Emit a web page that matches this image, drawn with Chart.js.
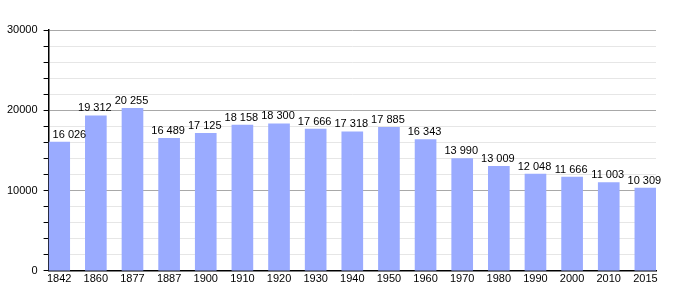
<!DOCTYPE html>
<html>
<head>
<meta charset="utf-8">
<script src="https://cdn.jsdelivr.net/npm/chart.js@4"></script>
<style>
  html, body { margin: 0; padding: 0; background: #fff; }
  #wrap { width: 684px; height: 300px; }
</style>
</head>
<body>
<div id="wrap"><canvas id="myChart"></canvas></div>
<script>
var years = ['1842', '1860', '1877', '1887', '1900', '1910', '1920', '1930', '1940', '1950', '1960', '1970', '1980', '1990', '2000', '2010', '2015'];
var population = [16026, 19312, 20255, 16489, 17125, 18158, 18300, 17666, 17318, 17885, 16343, 13990, 13009, 12048, 11666, 11003, 10309];
var yTicks = [0, 10000, 20000, 30000];

var points = population.map(function (v, i) { return { x: i, y: v }; });

function fmt(v) {
  return String(v).replace(/\B(?=(\d{3})+(?!\d))/g, ' ');
}

// value labels above each bar, kept clear of the y axis
var valueLabels = {
  id: 'valueLabels',
  afterDatasetsDraw: function (chart) {
    var ctx = chart.ctx;
    var meta = chart.getDatasetMeta(0);
    ctx.save();
    ctx.font = '11px "Liberation Sans", Arial, sans-serif';
    ctx.fillStyle = '#000';
    ctx.textAlign = 'left';
    ctx.textBaseline = 'bottom';
    meta.data.forEach(function (bar, i) {
      var txt = fmt(population[i]);
      var w = ctx.measureText(txt).width;
      var x = Math.max(bar.x - 1 - w / 2, chart.chartArea.left + 4);
      ctx.fillText(txt, x, bar.y - 2);
    });
    ctx.restore();
  }
};

Chart.defaults.font.family = '"Liberation Sans", Arial, sans-serif';
Chart.defaults.font.size = 11;
Chart.defaults.color = '#000';

window.config = {
  type: 'bar',
  data: {
    datasets: [{
      data: points,
      backgroundColor: '#9aabff',
      borderWidth: 0,
      barThickness: 21,
      label: 'Population'
    }]
  },
  options: {
    responsive: true,
    maintainAspectRatio: false,
    animation: false,
    layout: { padding: { top: 30, right: 28, left: 1, bottom: 12 } },
    plugins: {
      legend: { display: false },
      tooltip: { enabled: false }
    },
    scales: {
      x: {
        type: 'linear',
        offset: false,
        min: -0.29,
        max: 16.29,
        afterBuildTicks: function (axis) {
          axis.ticks = years.map(function (y, i) { return { value: i }; });
        },
        ticks: {
          autoSkip: false,
          maxRotation: 0,
          padding: 2,
          callback: function (v) { return years[v]; }
        },
        grid: { display: false, drawTicks: false },
        border: { display: true, color: '#000', width: 1.5 }
      },
      y: {
        min: 0,
        max: 30000,
        ticks: {
          stepSize: 2000,
          autoSkip: false,
          padding: 6,
          callback: function (v) { return yTicks.indexOf(v) >= 0 ? String(v) : ''; }
        },
        grid: {
          color: function (c) {
            if (!c.tick) return '#e6e6e6';
            return c.tick.value % 10000 === 0 && c.tick.value !== 0 ? '#a8a8a8' : '#e6e6e6';
          },
          tickColor: '#000',
          tickLength: 5
        },
        border: { display: true, color: '#000', width: 1.5 }
      }
    }
  },
  plugins: [valueLabels]
};

window.ctx = document.getElementById('myChart').getContext('2d');
window.myBar = new Chart(ctx, config);
</script>
</body>
</html>
